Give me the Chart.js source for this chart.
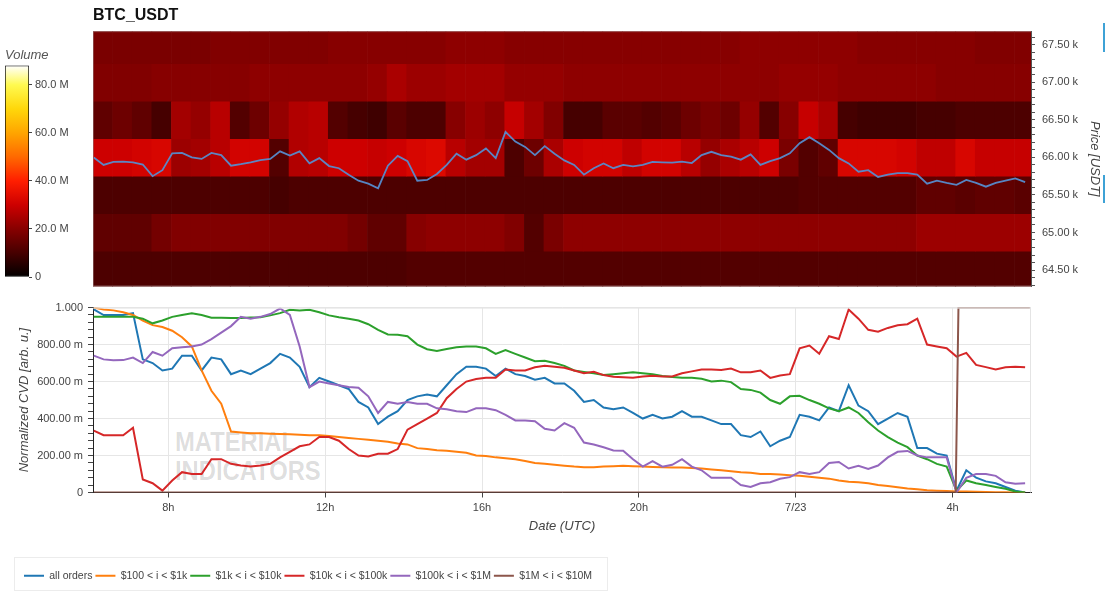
<!DOCTYPE html>
<html>
<head>
<meta charset="utf-8">
<script src="https://cdn.jsdelivr.net/npm/chart.js@4.4.1/dist/chart.umd.min.js"></script>
<style>
  html, body { margin: 0; padding: 0; background: #fff; }
  body { width: 1106px; height: 593px; position: relative; overflow: hidden; font-family: 'Liberation Sans', Arial, sans-serif; }
  .box { position: absolute; }
  #legendFrame { position: absolute; left: 14px; top: 557px; width: 592px; height: 32px; border: 1px solid #ececec; }
  #watermark { position: absolute; left: 175px; top: 428px; font: bold 27px/29px 'Liberation Sans Narrow', 'Liberation Sans', sans-serif; color: rgba(0, 0, 0, 0.14); transform: scaleX(0.88); transform-origin: left top; }
  .edge { position: absolute; left: 1103px; width: 2px; background: #3ea2d6; }
</style>
</head>
<body>
<div id="legendFrame"></div>
<div id="watermark">MATERIAL<br>INDICATORS</div>
<div class="box" style="left:0;top:0;width:1106px;height:300px"><canvas id="heat"></canvas></div>
<div class="box" style="left:0;top:0;width:95px;height:300px"><canvas id="colorbar"></canvas></div>
<div class="box" style="left:0;top:296px;width:1106px;height:297px"><canvas id="cvd"></canvas></div>
<div class="edge" style="top:23px;height:29px"></div>
<div class="edge" style="top:175px;height:28px"></div>
<script>
"use strict"

// hours since 7/22 00:00 UTC
const xMin = 6.08
const xMax = 30.0

// price line + CVD lines, one sample every 15 min
const sampleStart = 6.1
const sampleStep = 0.25

const priceUsdt = [
  66000, 65900, 65940, 65945, 65935, 65905, 65750, 65830, 66055, 66060,
  66000, 65980, 66060, 66030, 65890, 65910, 65935, 65965, 65980, 66080,
  66025, 66080, 65920, 65990, 65885, 65856, 65770, 65690, 65650, 65590,
  65890, 66020, 65950, 65690, 65700, 65780, 65900, 66050, 65970, 66030,
  66120, 65990, 66340, 66210, 66140, 66030, 66150, 66050, 65960, 65900,
  65770, 65856, 65920, 65856, 65900, 65880, 65900, 65940, 65935, 65930,
  65945, 65925, 66030, 66075, 66030, 66010, 65970, 66040, 65900, 65950,
  65990, 66055, 66190, 66270, 66190, 66100, 65990, 65920, 65810, 65830,
  65740, 65770, 65790, 65790, 65770, 65650, 65690, 65660, 65635, 65700,
  65660, 65610, 65660, 65690, 65720, 65670
]

const allOrders = [
  0.99, 0.96, 0.96, 0.96, 0.97, 0.72, 0.70, 0.66, 0.67, 0.74,
  0.74, 0.66, 0.73, 0.72, 0.64, 0.66, 0.64, 0.67, 0.70, 0.75,
  0.73, 0.68, 0.57, 0.62, 0.60, 0.58, 0.56, 0.49, 0.46, 0.37,
  0.41, 0.44, 0.50, 0.52, 0.53, 0.52, 0.58, 0.64, 0.68, 0.68,
  0.67, 0.63, 0.67, 0.64, 0.63, 0.61, 0.62, 0.59, 0.59, 0.55,
  0.49, 0.50, 0.46, 0.45, 0.46, 0.43, 0.40, 0.42, 0.40, 0.41,
  0.44, 0.41, 0.41, 0.39, 0.37, 0.37, 0.31, 0.30, 0.33, 0.25,
  0.28, 0.30, 0.42, 0.41, 0.39, 0.46, 0.44, 0.58, 0.47, 0.44,
  0.37, 0.40, 0.43, 0.41, 0.24, 0.24, 0.21, 0.20, 0.01, 0.12,
  0.08, 0.06, 0.05, 0.03, 0.01, 0.00
]

const orders100to1k = [
  1.00, 0.99, 0.985, 0.975, 0.96, 0.93, 0.905, 0.895, 0.875, 0.84,
  0.79, 0.66, 0.55, 0.48, 0.33, 0.325, 0.32, 0.32, 0.318, 0.316,
  0.315, 0.313, 0.31, 0.31, 0.305, 0.30, 0.295, 0.29, 0.285, 0.28,
  0.275, 0.265, 0.26, 0.24, 0.235, 0.228, 0.226, 0.22, 0.215, 0.20,
  0.198, 0.19, 0.185, 0.18, 0.17, 0.16, 0.155, 0.15, 0.145, 0.14,
  0.137, 0.137, 0.14, 0.142, 0.144, 0.142, 0.14, 0.138, 0.136, 0.135,
  0.135, 0.133, 0.13, 0.125, 0.12, 0.115, 0.11, 0.107, 0.10, 0.10,
  0.097, 0.093, 0.09, 0.085, 0.08, 0.075, 0.065, 0.058, 0.055, 0.05,
  0.04, 0.035, 0.028, 0.022, 0.018, 0.012, 0.01, 0.008, 0.006, 0.005,
  0.004, 0.003, 0.002, 0.001, 0, 0
]

const orders1kto10k = [
  0.95, 0.95, 0.95, 0.95, 0.95, 0.94, 0.915, 0.93, 0.95, 0.96,
  0.97, 0.96, 0.945, 0.945, 0.944, 0.944, 0.947, 0.948, 0.958, 0.97,
  0.988, 0.985, 0.988, 0.975, 0.958, 0.948, 0.94, 0.93, 0.91, 0.88,
  0.855, 0.853, 0.845, 0.80, 0.775, 0.765, 0.776, 0.785, 0.79, 0.79,
  0.78, 0.75, 0.77, 0.75, 0.73, 0.71, 0.713, 0.70, 0.685, 0.66,
  0.652, 0.645, 0.635, 0.64, 0.645, 0.65, 0.645, 0.64, 0.63, 0.625,
  0.62, 0.62, 0.615, 0.60, 0.605, 0.597, 0.56, 0.555, 0.54, 0.50,
  0.48, 0.52, 0.523, 0.50, 0.48, 0.455, 0.44, 0.46, 0.43, 0.38,
  0.335, 0.30, 0.27, 0.245, 0.20, 0.18, 0.155, 0.14, 0.01, 0.065,
  0.05, 0.04, 0.03, 0.02, 0.005, 0
]

const orders10kto100k = [
  0.335, 0.31, 0.31, 0.31, 0.35, 0.07, 0.05, 0.01, 0.065, 0.11,
  0.10, 0.10, 0.18, 0.18, 0.155, 0.146, 0.14, 0.146, 0.155, 0.19,
  0.22, 0.25, 0.26, 0.30, 0.30, 0.28, 0.235, 0.20, 0.195, 0.21,
  0.21, 0.235, 0.34, 0.37, 0.40, 0.43, 0.51, 0.56, 0.60, 0.614,
  0.62, 0.62, 0.665, 0.66, 0.66, 0.677, 0.686, 0.68, 0.675, 0.66,
  0.645, 0.653, 0.635, 0.626, 0.623, 0.62, 0.627, 0.632, 0.627, 0.628,
  0.645, 0.655, 0.665, 0.665, 0.663, 0.67, 0.65, 0.65, 0.66, 0.62,
  0.633, 0.64, 0.78, 0.795, 0.75, 0.845, 0.83, 0.99, 0.94, 0.88,
  0.87, 0.89, 0.905, 0.91, 0.94, 0.80, 0.79, 0.78, 0.735, 0.755,
  0.69, 0.678, 0.665, 0.677, 0.68, 0.678
]

const orders100kto1M = [
  0.74, 0.72, 0.715, 0.716, 0.73, 0.70, 0.76, 0.74, 0.78, 0.785,
  0.79, 0.80, 0.83, 0.865, 0.90, 0.95, 0.94, 0.95, 0.965, 0.995,
  0.96, 0.79, 0.57, 0.60, 0.59, 0.58, 0.57, 0.567, 0.52, 0.43,
  0.49, 0.48, 0.49, 0.48, 0.48, 0.455, 0.45, 0.44, 0.435, 0.455,
  0.455, 0.445, 0.42, 0.39, 0.39, 0.385, 0.345, 0.335, 0.375, 0.35,
  0.27, 0.26, 0.245, 0.227, 0.226, 0.18, 0.14, 0.17, 0.14, 0.15,
  0.18, 0.14, 0.12, 0.08, 0.08, 0.08, 0.04, 0.03, 0.05, 0.056,
  0.074, 0.083, 0.11, 0.10, 0.11, 0.16, 0.165, 0.13, 0.145, 0.128,
  0.146, 0.19, 0.22, 0.225, 0.20, 0.19, 0.19, 0.19, 0.0, 0.08,
  0.10, 0.10, 0.09, 0.055, 0.048, 0.05
]

// the $1M - $10M series only moves once, just after 4h
const orders1Mto10MTimes = [6.1, 28.08, 28.15, 29.97]
const orders1Mto10M = [0, 0, 1, 1]

// heatmap: volume (millions) per 500 USDT price band, 30 min columns
const heatStart = 6.33
const heatStep = 0.5
const bandPrices = [67500, 67000, 66500, 66000, 65500, 65000, 64500]

const vol67500 = [18,18,18,18,18,18,19,19,19,19,19,19,20,20,20,20,20,20,21,21,21,20,20,20,20,20,20,20,20,20,20,20,20,21,21,21,21,21,21,20,20,20,20,20,20,19,19,19]
const vol67000 = [19,19,19,20,20,20,20,20,21,21,21,21,21,21,22,25,23,23,24,24,24,22,22,22,21,21,21,21,21,21,21,21,21,21,21,22,22,22,21,21,21,21,21,20,20,20,20,20]
const vol66500 = [14,16,14,10,24,22,27,12,16,22,26,27,12,10,9,13,11,11,20,23,21,29,24,19,10,10,13,13,12,13,16,18,16,22,12,20,29,25,10,9,9,9,10,10,11,11,11,11]
const vol66000 = [30,30,31,32,23,24,27,31,31,12,26,27,30,30,29,30,32,33,27,24,24,11,16,25,30,31,31,28,31,31,27,22,25,27,30,18,12,14,32,32,32,31,28,28,32,29,29,29]
const vol65500 = [11,11,11,11,11,11,11,11,11,10,11,11,11,11,11,11,11,11,11,11,11,11,11,11,11,11,11,11,11,11,11,11,11,11,11,11,12,12,12,12,12,12,14,14,13,14,14,13]
const vol65000 = [14,14,14,17,19,19,19,19,19,19,19,19,19,17,14,14,20,21,21,21,21,19,12,18,21,21,21,21,21,21,21,21,21,21,21,21,21,21,21,21,21,21,23,23,23,23,23,23]
const vol64500 = [11,11,11,11,11,11,11,11,11,11,11,11,11,11,11,11,12,12,12,12,12,12,12,12,12,12,12,12,12,12,12,12,12,12,12,12,12,12,12,12,12,12,12,12,12,12,12,12]
const bandVolumes = [vol67500, vol67000, vol66500, vol66000, vol65500, vol65000, vol64500]

const volumeMax = 88
const volumeTicks = [0, 20, 40, 60, 80]

const priceMin = 64282
const priceMax = 67681

const seriesLabels = ['all orders', '$100 < i < $1k', '$1k < i < $10k', '$10k < i < $100k', '$100k < i < $1M', '$1M < i < $10M']
const seriesColors = ['#1f77b4', '#ff7f0e', '#2ca02c', '#d62728', '#9467bd', '#8c564b']

// colour ramp of the volume scale (black -> red -> yellow -> white)
const rampStops = [
  [0, [0, 0, 0]], [10, [70, 0, 0]], [20, [135, 0, 0]], [30, [205, 0, 0]],
  [40, [255, 30, 0]], [50, [255, 105, 0]], [60, [255, 165, 0]],
  [70, [255, 215, 10]], [80, [255, 250, 80]], [88, [255, 255, 255]]
]

const volumeColor = (v) => {
  for (let i = 1; i < rampStops.length; i++) {
    const [v0, c0] = rampStops[i - 1]
    const [v1, c1] = rampStops[i]
    if (v <= v1) {
      const f = (v - v0) / (v1 - v0)
      const c = c0.map((a, k) => Math.round(a + (c1[k] - a) * f))
      return `rgb(${c[0]}, ${c[1]}, ${c[2]})`
    }
  }
  return 'rgb(255, 255, 255)'
}

const lineTimes = allOrders.map((_, i) => sampleStart + i * sampleStep)
const heatTimes = vol67500.map((_, j) => heatStart + j * heatStep)
const toPoints = (times, values) => times.map((t, i) => ({ x: t, y: values[i] }))

Chart.defaults.font.family = "'Liberation Sans', Arial, sans-serif"
Chart.defaults.font.size = 11
Chart.defaults.color = '#444'

// thin outline on chosen sides of the plot area
const plotFrame = {
  id: 'plotFrame',
  afterDatasetsDraw(chart, args, opts) {
    const { ctx, chartArea: a } = chart
    ctx.save()
    ctx.strokeStyle = opts.color
    ctx.lineWidth = 1
    ctx.beginPath()
    if (opts.sides.includes('top')) { ctx.moveTo(a.left, a.top + 0.5); ctx.lineTo(a.right, a.top + 0.5) }
    if (opts.sides.includes('right')) { ctx.moveTo(a.right - 0.5, a.top); ctx.lineTo(a.right - 0.5, a.bottom) }
    if (opts.sides.includes('bottom')) { ctx.moveTo(a.left, a.bottom - 0.5); ctx.lineTo(a.right, a.bottom - 0.5) }
    if (opts.sides.includes('left')) { ctx.moveTo(a.left + 0.5, a.top); ctx.lineTo(a.left + 0.5, a.bottom) }
    ctx.stroke()
    ctx.restore()
  }
}

// ---- top panel: volume heatmap + price
const heatDatasets = bandPrices.map((price, r) => ({
  type: 'bar',
  label: `${price}`,
  data: heatTimes.map(t => ({ x: t, y: [price - 250, price + 250] })),
  backgroundColor: bandVolumes[r].map(volumeColor),
  borderWidth: 0,
  grouped: false,
  barPercentage: 1,
  categoryPercentage: 1,
  order: 2
}))

new Chart(document.getElementById('heat'), {
  type: 'bar',
  data: {
    datasets: [
      ...heatDatasets,
      {
        type: 'line',
        label: 'price',
        data: toPoints(lineTimes, priceUsdt),
        borderColor: 'rgba(86, 140, 205, 0.95)',
        borderWidth: 1.8,
        pointRadius: 0,
        tension: 0,
        order: 0
      }
    ]
  },
  options: {
    responsive: true,
    maintainAspectRatio: false,
    animation: false,
    layout: { padding: { left: 93, right: 0, top: 0, bottom: 13 } },
    plugins: {
      legend: { display: false },
      tooltip: { enabled: false },
      title: {
        display: true,
        text: 'BTC_USDT',
        align: 'start',
        color: '#111',
        font: { size: 16, weight: 'bold' },
        padding: { top: 6, bottom: 6 }
      },
      plotFrame: { color: 'rgba(150, 110, 110, 0.6)', sides: ['top', 'bottom', 'left'] }
    },
    scales: {
      x: { type: 'linear', min: xMin, max: xMax, offset: false, display: false },
      y: {
        type: 'linear',
        position: 'right',
        min: priceMin,
        max: priceMax,
        afterFit: (scale) => { scale.width = 75 },
        // a tick every 100 USDT, labelled every 500
        afterBuildTicks: (scale) => {
          const ticks = []
          for (let v = Math.ceil(priceMin / 100) * 100; v <= priceMax; v += 100) ticks.push({ value: v })
          scale.ticks = ticks
        },
        border: { display: true, color: '#555' },
        grid: { drawOnChartArea: false, tickLength: 4, tickColor: '#555' },
        ticks: {
          autoSkip: false,
          padding: 7,
          callback: (v) => (v % 500 === 0 ? `${(v / 1000).toFixed(2)} k` : '')
        },
        title: {
          display: true,
          text: 'Price [USDT]',
          color: '#444',
          font: { size: 13, style: 'italic' },
          padding: { top: 4, bottom: 0 }
        }
      }
    }
  },
  plugins: [plotFrame]
})

// ---- colour bar of the volume scale
new Chart(document.getElementById('colorbar'), {
  type: 'bar',
  data: {
    labels: ['Volume'],
    datasets: [{
      data: [[0, volumeMax]],
      backgroundColor: (ctx) => {
        const area = ctx.chart.chartArea
        if (!area) return '#800000'
        const g = ctx.chart.ctx.createLinearGradient(0, area.bottom, 0, area.top)
        rampStops.forEach(([v, c]) => g.addColorStop(v / volumeMax, `rgb(${c[0]}, ${c[1]}, ${c[2]})`))
        return g
      },
      borderColor: '#000',
      borderWidth: 1,
      borderSkipped: false,
      barPercentage: 1,
      categoryPercentage: 1
    }]
  },
  options: {
    responsive: true,
    maintainAspectRatio: false,
    animation: false,
    layout: { padding: { left: 5, right: 0, top: 48, bottom: 23 } },
    plugins: {
      legend: { display: false },
      tooltip: { enabled: false },
      title: {
        display: true,
        text: 'Volume',
        align: 'start',
        color: '#555',
        font: { size: 13, style: 'italic', weight: 'normal' },
        padding: { top: 0, bottom: 2 }
      }
    },
    scales: {
      x: { display: false },
      y: {
        position: 'right',
        min: 0,
        max: volumeMax,
        afterFit: (scale) => { scale.width = 66 },
        afterBuildTicks: (scale) => { scale.ticks = volumeTicks.map(v => ({ value: v })) },
        border: { display: false },
        grid: { drawOnChartArea: false, tickLength: 3, tickColor: '#444' },
        ticks: {
          padding: 3,
          callback: (v) => (v === 0 ? '0' : `${v.toFixed(1)} M`)
        }
      }
    }
  }
})

// ---- bottom panel: normalized CVD per order size
const isMajorCvd = (v) => Math.abs(v * 5 - Math.round(v * 5)) < 1e-6
const cvdValues = [allOrders, orders100to1k, orders1kto10k, orders10kto100k, orders100kto1M]

const cvdDatasets = cvdValues.map((vals, i) => ({
  label: seriesLabels[i],
  data: toPoints(lineTimes, vals),
  borderColor: seriesColors[i],
  backgroundColor: seriesColors[i],
  borderWidth: 2,
  pointRadius: 0,
  tension: 0,
  order: 6 - i
}))
cvdDatasets.push({
  label: seriesLabels[5],
  data: toPoints(orders1Mto10MTimes, orders1Mto10M),
  borderColor: seriesColors[5],
  backgroundColor: seriesColors[5],
  borderWidth: 2,
  pointRadius: 0,
  tension: 0,
  order: 1
})

new Chart(document.getElementById('cvd'), {
  type: 'line',
  data: { datasets: cvdDatasets },
  options: {
    responsive: true,
    maintainAspectRatio: false,
    animation: false,
    layout: { padding: { left: 21, right: 75, top: 11, bottom: 2 } },
    plugins: {
      tooltip: { enabled: false },
      plotFrame: { color: '#e4e4e4', sides: ['top', 'right'] },
      legend: {
        position: 'bottom',
        align: 'start',
        labels: {
          boxWidth: 20,
          boxHeight: 2,
          padding: 3,
          color: '#444',
          font: { size: 10.5 },
          sort: (a, b) => a.datasetIndex - b.datasetIndex,
          generateLabels: (chart) => Chart.defaults.plugins.legend.labels.generateLabels(chart)
            .map(item => ({ ...item, lineWidth: 0, fillStyle: item.strokeStyle }))
        }
      }
    },
    scales: {
      x: {
        type: 'linear',
        min: xMin,
        max: xMax,
        afterFit: (scale) => { scale.height = 75 },
        border: { color: '#222', width: 1 },
        grid: { color: '#e6e6e6', tickLength: 5, tickColor: '#444' },
        ticks: {
          stepSize: 4,
          includeBounds: false,
          autoSkip: false,
          maxRotation: 0,
          padding: 4,
          callback: (v) => (v === 24 ? '7/23' : `${v % 24}h`)
        },
        title: {
          display: true,
          text: 'Date (UTC)',
          color: '#444',
          font: { size: 13, style: 'italic' },
          padding: { top: 0, bottom: 33 }
        }
      },
      y: {
        min: 0,
        max: 1,
        afterFit: (scale) => { scale.width = 72 },
        border: { color: '#222', width: 1 },
        grid: {
          color: (ctx) => (ctx.tick && isMajorCvd(ctx.tick.value) ? '#e6e6e6' : 'rgba(0, 0, 0, 0)'),
          tickLength: 5,
          tickColor: '#444'
        },
        ticks: {
          stepSize: 0.04,
          autoSkip: false,
          padding: 5,
          callback: (v) => {
            if (!isMajorCvd(v)) return ''
            if (v === 0) return '0'
            if (v === 1) return '1.000'
            return `${(v * 1000).toFixed(2)} m`
          }
        },
        title: {
          display: true,
          text: 'Normalized CVD [arb. u.]',
          color: '#444',
          font: { size: 13, style: 'italic' },
          padding: { top: -4, bottom: 0 }
        }
      }
    }
  },
  plugins: [plotFrame]
})
</script>
</body>
</html>
